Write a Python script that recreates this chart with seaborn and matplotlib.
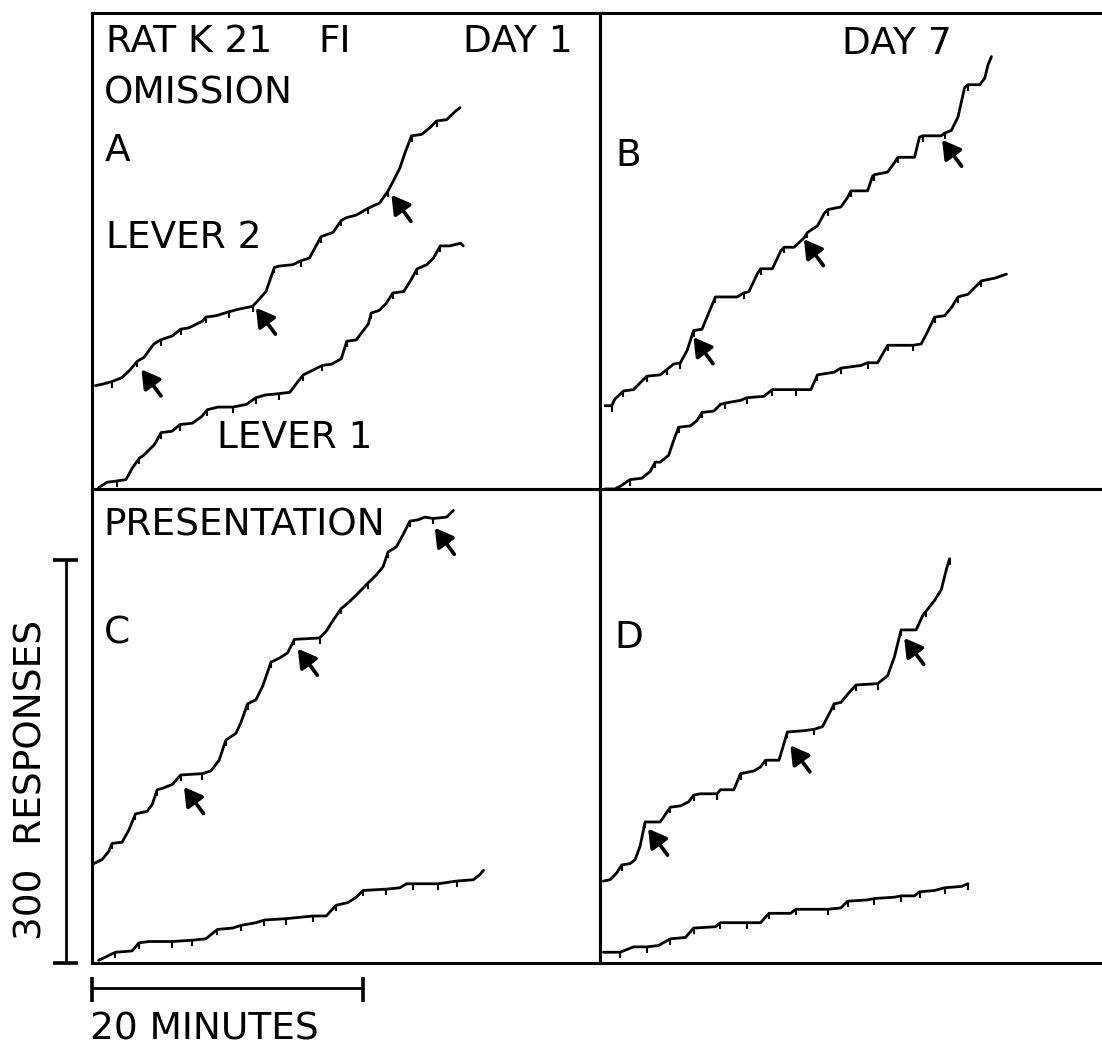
import numpy as np
import matplotlib
matplotlib.use("Agg")
import matplotlib.pyplot as plt
import seaborn as sns

sns.set_theme(style="white")
plt.rcParams['font.family'] = ['DejaVu Sans']

# --- cumulative records: time (min), responses ---
# A: omission, day 1
a_lev2_t = [0.25, 0.74, 1.48, 2.22, 2.84, 3.33, 3.83, 4.57, 5.06, 5.93, 6.54, 7.16, 8.15, 8.4, 9.14,
            10.12, 10.86, 11.85, 12.22, 12.84, 13.46, 13.83, 14.81, 15.43, 16.05, 16.91, 17.78, 18.4,
            18.77, 19.51, 20.37, 21.23, 21.85, 22.22, 22.72, 23.09, 23.58, 24.32, 24.94, 25.43, 26.17,
            26.79, 27.16]
a_lev2_r = [77, 78, 80, 83, 89, 95, 98, 108, 111, 114, 119, 120, 125, 128, 129, 132, 134, 136, 140, 147,
            165, 166, 167, 170, 172, 188, 191, 200, 202, 204, 209, 213, 222, 229, 239, 250, 263, 264, 269,
            274, 275, 281, 284]
a_lev2_pips = [1.5, 3.3, 5.1, 6.5, 8.4, 10.1, 11.9, 13.5, 15.4, 16.9, 18.4, 20.4, 21.9, 23.6, 25.4]

a_lev1_t = [0.5, 1.1, 1.85, 2.5, 3.0, 3.5, 3.8, 4.6, 5.1, 5.9, 6.5, 7.4, 8.1, 8.5, 9.3, 10.4, 11.4, 12.1,
            12.8, 13.8, 14.6, 15.2, 15.6, 17.0, 17.7, 18.4, 18.8, 19.5, 20.4, 20.6, 21.2, 21.7, 22.2, 23.0,
            23.5, 24.0, 24.7, 25.2, 25.7, 26.4, 27.2, 27.4]
a_lev1_r = [1, 5, 6, 7, 16, 23, 25, 33, 42, 43, 48, 49, 54, 59, 61, 61, 63, 68, 70, 71, 72, 80, 85, 92, 93,
            97, 110, 111, 123, 131, 133, 138, 146, 147, 155, 164, 167, 172, 181, 181, 183, 181]
a_lev1_pips = [1.85, 3.5, 5.1, 6.5, 8.5, 10.4, 12.1, 13.8, 15.6, 17.0, 18.8, 20.6, 22.2, 24.0, 25.7]

# B: omission, day 7
b_lev2_t = [0.37, 0.86, 1.1, 1.73, 2.47, 2.96, 3.46, 4.44, 4.94, 5.43, 5.93, 6.42, 6.91, 7.53, 8.02, 8.52,
            10.12, 10.62, 10.99, 11.6, 11.85, 12.72, 13.33, 13.58, 14.32, 15.06, 15.31, 16.05, 16.54, 16.79,
            17.78, 18.27, 18.52, 19.75, 20.12, 20.25, 21.23, 21.73, 21.98, 23.21, 23.58, 23.83, 25.19, 25.43,
            25.93, 26.42, 26.91, 27.16, 28.02, 28.4, 28.64, 28.89]
b_lev2_r = [62, 62, 67, 73, 74, 79, 84, 85, 89, 93, 94, 103, 118, 119, 131, 143, 143, 146, 147, 160, 164,
            164, 177, 180, 180, 187, 191, 196, 205, 208, 210, 217, 222, 222, 233, 234, 236, 243, 247, 247,
            262, 263, 263, 265, 267, 277, 299, 301, 301, 306, 316, 322]
b_lev2_pips = [0.86, 1.73, 3.46, 4.94, 5.93, 6.91, 8.52, 10.62, 11.85, 13.58, 15.31, 16.79, 18.52, 20.25,
               21.98, 23.83, 25.43, 27.16]

b_lev1_t = [0.37, 1.11, 1.48, 2.22, 3.09, 3.7, 4.07, 4.44, 5.06, 5.43, 5.8, 6.67, 7.16, 7.53, 8.4, 8.89,
            9.26, 10.37, 10.86, 12.1, 12.72, 14.44, 15.56, 16.05, 17.28, 17.78, 19.26, 19.75, 20.49, 21.23,
            23.09, 23.7, 24.07, 24.69, 25.43, 25.93, 26.42, 27.16, 27.65, 28.15, 29.14, 30.0]
b_lev1_r = [0, 0, 2, 7, 8, 13, 20, 20, 25, 36, 46, 47, 51, 57, 58, 63, 64, 66, 68, 69, 74, 74, 74, 85, 87,
            90, 92, 94, 94, 107, 107, 108, 115, 128, 129, 135, 143, 145, 150, 155, 157, 160]
b_lev1_pips = [2.22, 4.07, 5.8, 7.53, 9.26, 10.86, 12.72, 14.44, 16.05, 17.78, 19.75, 21.23, 23.09, 24.69,
               26.42, 28.15]

# C: presentation, day 1
c_lev2_t = [0.12, 0.74, 1.23, 1.48, 2.22, 2.72, 3.21, 4.07, 4.44, 4.81, 5.19, 5.93, 6.54, 8.15, 8.77, 9.38,
            9.88, 10.62, 10.99, 11.48, 12.1, 12.59, 13.21, 13.83, 14.44, 14.94, 16.79, 17.28, 17.78, 18.4,
            18.77, 19.51, 20.37, 20.99, 21.48, 21.85, 22.47, 22.96, 23.46, 24.07, 24.57, 25.19, 26.17, 26.67]
c_lev2_r = [74, 77, 83, 89, 90, 99, 111, 113, 118, 129, 130, 133, 140, 141, 143, 151, 166, 171, 179, 193,
            196, 206, 224, 227, 231, 241, 242, 247, 255, 264, 267, 274, 283, 289, 295, 306, 310, 319, 329,
            330, 332, 331, 332, 337]
c_lev2_pips = [1.48, 3.21, 4.81, 6.54, 8.15, 9.88, 11.48, 13.21, 14.94, 16.79, 18.4, 20.37, 21.85, 23.46,
               25.19]

c_lev1_t = [0.49, 1.11, 1.73, 2.96, 3.46, 4.2, 5.93, 7.41, 8.4, 9.26, 10.37, 10.99, 12.1, 12.72, 14.32,
            16.3, 17.28, 18.02, 18.89, 19.51, 20.0, 21.73, 22.72, 23.21, 23.7, 24.69, 25.56, 26.91, 28.15,
            28.64, 28.89]
c_lev1_r = [2, 5, 8, 9, 15, 16, 16, 17, 18, 25, 26, 28, 30, 32, 33, 35, 35, 43, 45, 49, 54, 55, 56, 59, 59,
            59, 59, 61, 62, 66, 69]
c_lev1_pips = [1.73, 3.46, 5.93, 7.41, 9.26, 10.99, 12.72, 14.32, 16.3, 18.02, 20.0, 21.73, 23.7, 25.56,
               26.91]

# D: presentation, day 7
d_lev2_t = [0.25, 0.74, 1.23, 1.6, 2.22, 2.59, 2.96, 3.33, 4.44, 5.19, 5.93, 6.54, 6.91, 7.41, 8.64, 8.89,
            9.88, 10.37, 11.36, 11.85, 12.22, 13.21, 13.83, 15.06, 15.8, 16.42, 17.04, 17.28, 17.78, 18.27,
            18.89, 20.49, 21.23, 21.73, 22.22, 23.33, 23.83, 24.07, 24.69, 25.19, 25.56, 25.8]
d_lev2_r = [61, 62, 67, 73, 74, 77, 87, 105, 105, 116, 117, 120, 125, 126, 126, 129, 129, 141, 143, 146,
            151, 151, 172, 173, 174, 176, 188, 193, 194, 200, 207, 208, 214, 228, 248, 248, 259, 262, 270,
            278, 293, 301]
d_lev2_pips = [1.6, 3.33, 5.19, 6.91, 8.64, 10.37, 12.22, 13.83, 15.8, 17.28, 18.89, 20.49, 22.22, 24.07,
               25.8]

d_lev1_t = [0.25, 1.48, 2.47, 3.46, 4.32, 5.19, 6.3, 6.91, 8.52, 8.89, 10.86, 11.85, 12.47, 14.07, 14.44,
            16.79, 17.78, 18.27, 19.75, 20.25, 21.73, 22.22, 23.21, 23.58, 24.69, 25.43, 26.67, 27.16]
d_lev1_r = [8, 8, 12, 12, 13, 18, 19, 26, 27, 30, 30, 30, 37, 37, 40, 40, 41, 46, 47, 48, 49, 50, 50, 53,
            54, 56, 57, 59]
d_lev1_pips = [1.48, 3.46, 5.19, 6.91, 8.89, 10.86, 12.47, 14.44, 16.79, 18.27, 20.25, 22.22, 23.58, 25.43,
               27.16]

# arrow tips (time, responses)
a_arrows = [(3.65, 89), (12.1, 135), (22.1, 219)]
b_arrows = [(6.9, 113), (15.05, 186), (25.25, 260)]
c_arrows = [(6.79, 131), (15.19, 234), (25.3, 324)]
d_arrows = [(3.55, 100), (14.05, 162), (22.45, 242)]

BAR_MIN = 20
BAR_RESP = 300

# --- layout ---
W, H = 1102, 1046
PX_MIN = 13.55    # pixels per minute
PX_RESP = 1.343   # pixels per response

fig = plt.figure(figsize=(W / 100, H / 100), dpi=100)


def make_ax(x0, y0, x1, y1):
    ax = fig.add_axes([x0 / W, 1 - y1 / H, (x1 - x0) / W, (y1 - y0) / H])
    ax.set_xlim(0, (x1 - x0) / PX_MIN)
    ax.set_ylim(0, (y1 - y0) / PX_RESP)
    ax.set_xticks([])
    ax.set_yticks([])
    for s in ax.spines.values():
        s.set_linewidth(2.2)
        s.set_color('black')
    return ax


def record(ax, t, r, pips):
    t = np.asarray(t)
    r = np.asarray(r)
    sns.lineplot(x=t, y=r, ax=ax, sort=False, estimator=None, color='black', lw=2.0)
    idx = [int(np.argmin(np.abs(t - p))) for p in pips]
    ax.plot(t[idx], r[idx], ls='none', marker=3, ms=4.5, mew=1.5, color='black')


def arrows(ax, tips):
    for tip in tips:
        ax.annotate('', xy=tip, xytext=(14, -19), textcoords='offset points',
                    arrowprops=dict(arrowstyle='-|>,head_length=0.6,head_width=0.35',
                                    lw=2.7, color='black', shrinkA=0, shrinkB=0,
                                    mutation_scale=18))


axA = make_ax(92, 13, 600, 489)
axB = make_ax(600, 13, 1112, 489)
axC = make_ax(92, 489, 600, 963)
axD = make_ax(600, 489, 1112, 963)

record(axA, a_lev2_t, a_lev2_r, a_lev2_pips)
record(axA, a_lev1_t, a_lev1_r, a_lev1_pips)
record(axB, b_lev2_t, b_lev2_r, b_lev2_pips)
record(axB, b_lev1_t, b_lev1_r, b_lev1_pips)
record(axC, c_lev2_t, c_lev2_r, c_lev2_pips)
record(axC, c_lev1_t, c_lev1_r, c_lev1_pips)
record(axD, d_lev2_t, d_lev2_r, d_lev2_pips)
record(axD, d_lev1_t, d_lev1_r, d_lev1_pips)

arrows(axA, a_arrows)
arrows(axB, b_arrows)
arrows(axC, c_arrows)
arrows(axD, d_arrows)

# scale bars, drawn in panel C's units
vx = -26 / PX_MIN
cap_v = (-39 / PX_MIN, -14 / PX_MIN)
axC.plot([vx, vx], [0, BAR_RESP], color='black', lw=2.0, clip_on=False)
for yy in (0, BAR_RESP):
    axC.plot(cap_v, [yy, yy], color='black', lw=2.6, clip_on=False, solid_capstyle='butt')
hy = -25 / PX_RESP
cap_h = (-14 / PX_RESP, -39 / PX_RESP)
axC.plot([0, BAR_MIN], [hy, hy], color='black', lw=2.0, clip_on=False)
for xx in (0, BAR_MIN):
    axC.plot([xx, xx], cap_h, color='black', lw=2.6, clip_on=False, solid_capstyle='butt')

# --- lettering ---
FS = 27


def label(x, y, s, **kw):
    fig.text(x / W, 1 - y / H, s, ha='left', va='baseline', fontsize=FS, color='black', **kw)


label(106, 52, "RAT K 21")
label(318, 52, "FI")
label(463, 52, "DAY 1")
label(842, 54, "DAY 7")
label(104, 104, "OMISSION")
label(105, 161, "A")
label(106, 248, "LEVER 2")
label(217, 448, "LEVER 1")
label(615, 166, "B")
label(103, 536, "PRESENTATION")
label(104, 643, "C")
label(614, 648, "D")
label(90, 1039, "20 MINUTES")
fig.text(41 / W, 1 - 940 / H, "300  RESPONSES", rotation=90, rotation_mode='anchor',
         ha='left', va='baseline', fontsize=FS, color='black')

fig.savefig("out.png", dpi=100)
